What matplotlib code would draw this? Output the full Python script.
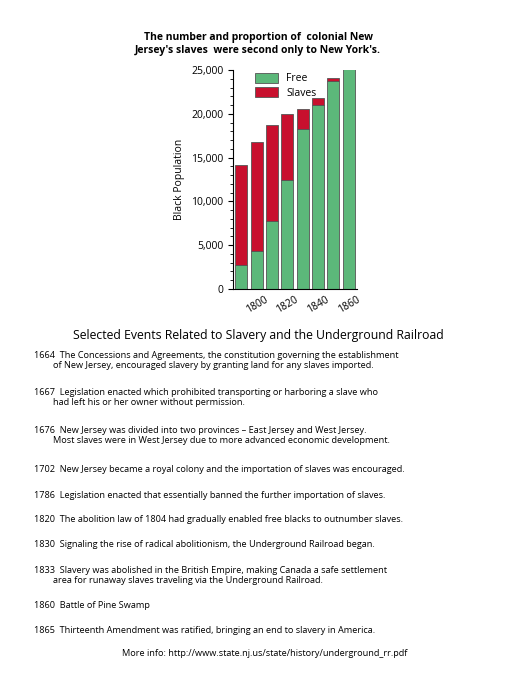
import matplotlib
matplotlib.use('Agg')
import matplotlib.pyplot as plt
import numpy as np

years = [1790, 1800, 1810, 1820, 1830, 1840, 1850, 1860]
free = [2750, 4300, 7800, 12400, 18300, 21000, 23700, 25300]
total = [14200, 16800, 18700, 20000, 20600, 21800, 24100, 25300]
slaves = [t - f for t, f in zip(total, free)]
tick_years = [1800, 1820, 1840, 1860]

events = [
    "1664  The Concessions and Agreements, the constitution governing the establishment\n        of New Jersey, encouraged slavery by granting land for any slaves imported.",
    "1667  Legislation enacted which prohibited transporting or harboring a slave who\n        had left his or her owner without permission.",
    "1676  New Jersey was divided into two provinces \u2013 East Jersey and West Jersey.\n        Most slaves were in West Jersey due to more advanced economic development.",
    "1702  New Jersey became a royal colony and the importation of slaves was encouraged.",
    "1786  Legislation enacted that essentially banned the further importation of slaves.",
    "1820  The abolition law of 1804 had gradually enabled free blacks to outnumber slaves.",
    "1830  Signaling the rise of radical abolitionism, the Underground Railroad began.",
    "1833  Slavery was abolished in the British Empire, making Canada a safe settlement\n        area for runaway slaves traveling via the Underground Railroad.",
    "1860  Battle of Pine Swamp",
    "1865  Thirteenth Amendment was ratified, bringing an end to slavery in America.",
]
event_y = [351, 388, 426, 465, 491, 515, 540, 566, 601, 626]

W, H = 519, 679
plt.rcParams['font.family'] = ['Open Sans', 'DejaVu Sans']
fig = plt.figure(figsize=(W / 100, H / 100), dpi=100)

def fy(y):
    return 1 - y / H

ax = fig.add_axes([233 / W, fy(289), (357 - 233) / W, (289 - 70) / H])
x = np.arange(len(years))
ax.bar(x, free, width=0.78, color='#5cb87a', edgecolor='#555555', linewidth=0.6, label='Free')
ax.bar(x, slaves, bottom=free, width=0.78, color='#c8102e', edgecolor='#555555', linewidth=0.6, label='Slaves')
ax.set_xlim(-0.55, len(years) - 0.45)
ax.set_ylim(0, 25000)
ax.set_yticks(range(0, 25001, 5000))
ax.set_yticks(range(0, 25001, 1000), minor=True)
ax.set_yticklabels([f'{v:,}' for v in range(0, 25001, 5000)], fontsize=7.5)
ax.set_xticks([years.index(t) for t in tick_years])
ax.set_xticklabels([str(t) for t in tick_years], rotation=30, fontsize=7.5)
ax.tick_params(axis='x', length=0)
for s in ['top', 'right']:
    ax.spines[s].set_visible(False)
ax.set_ylabel('Black Population', fontsize=7.5)
ax.legend(loc='upper left', bbox_to_anchor=(0.1, 1.03), frameon=False, fontsize=7.5,
          handlelength=2.2, handleheight=1.1, labelspacing=0.3)

fig.text(258 / W, fy(44), "The number and proportion of  colonial New\nJersey's slaves  were second only to New York's.",
         ha='center', va='center', fontsize=7.5, weight='bold', linespacing=1.2)
fig.text(258 / W, fy(336), "Selected Events Related to Slavery and the Underground Railroad",
         ha='center', va='center', fontsize=8.8)
for txt, y in zip(events, event_y):
    fig.text(34 / W, fy(y), txt, ha='left', va='top', fontsize=6.6, linespacing=1.2)
fig.text(265 / W, fy(654), "More info: http://www.state.nj.us/state/history/underground_rr.pdf",
         ha='center', va='center', fontsize=6.6)

fig.savefig('out.png', dpi=100)
